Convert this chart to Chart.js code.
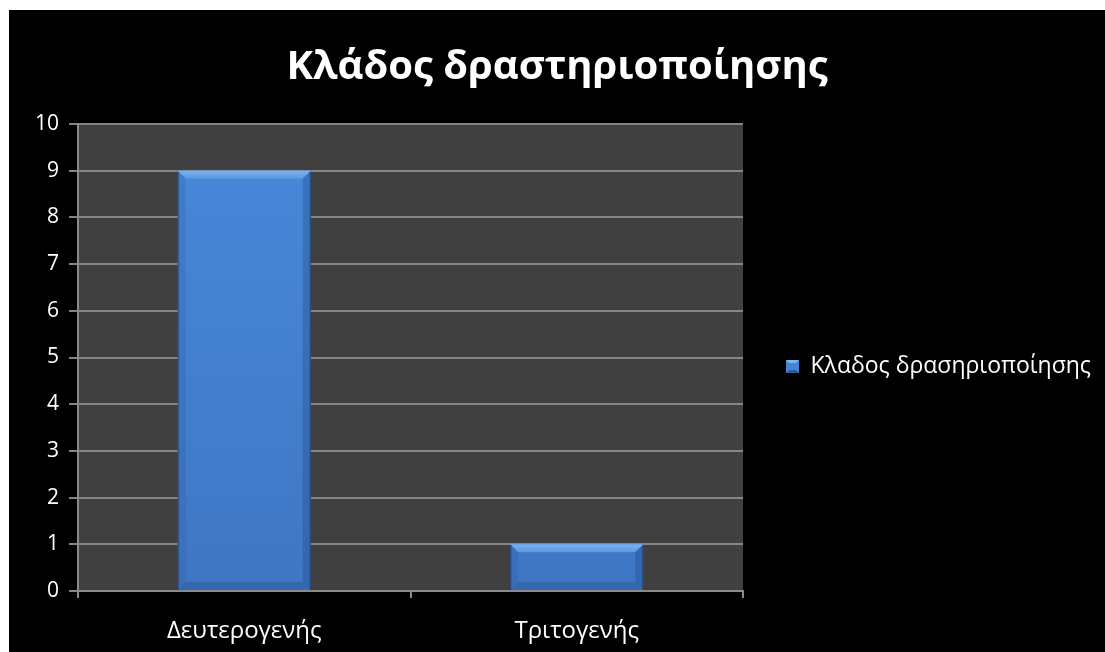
<!DOCTYPE html>
<html>
<head>
<meta charset="utf-8">
<script src="https://cdn.jsdelivr.net/npm/chart.js@4"></script>
<style>
  html, body { margin: 0; padding: 0; background: #fff; overflow: hidden; }
  #frame { position: fixed; left: 9px; top: 10px; right: 0; bottom: 0; background: #000; }
  canvas { display: block; }
</style>
</head>
<body>
<div id="frame"><canvas id="chart" width="1096" height="642"></canvas></div>
<script>
// Chart content
const chartTitle = 'Κλάδος δραστηριοποίησης';
const seriesName = 'Κλαδος δρασηριοποίησης';
const categories = ['Δευτερογενής', 'Τριτογενής'];
const seriesValues = [9, 1];
const yTickValues = [0, 1, 2, 3, 4, 5, 6, 7, 8, 9, 10];

const FONT = "'Open Sans', 'Noto Sans', sans-serif";
const BAR_TOP = '#4889da';
const BAR_BOTTOM = '#3f76c4';

// Small bevelled square used as the legend marker
function makeLegendMarker() {
  const s = 13;
  const c = document.createElement('canvas');
  c.width = s; c.height = s;
  const g = c.getContext('2d');
  g.fillStyle = '#4683d4';
  g.fillRect(0, 0, s, s);
  g.fillStyle = '#7fb3f0';
  g.beginPath(); g.moveTo(0, 0); g.lineTo(s, 0); g.lineTo(s - 3, 3); g.lineTo(3, 3); g.closePath(); g.fill();
  g.fillStyle = '#2f5c9c';
  g.beginPath(); g.moveTo(0, s); g.lineTo(s, s); g.lineTo(s - 3, s - 3); g.lineTo(3, s - 3); g.closePath(); g.fill();
  return c;
}
const legendMarker = makeLegendMarker();

// Dark fill behind the plotting area
const plotBackground = {
  id: 'plotBackground',
  beforeDraw(chart) {
    const { ctx, chartArea: a } = chart;
    ctx.save();
    ctx.fillStyle = '#404040';
    ctx.fillRect(a.left, a.top, a.right - a.left, a.bottom - a.top);
    ctx.restore();
  }
};

// Fixed-width legend column on the right
const legendWidth = {
  id: 'legendWidth',
  beforeLayout(chart) {
    const lg = chart.legend;
    if (lg && !lg._fixedFit) {
      const fit = lg.fit.bind(lg);
      lg.fit = function () { fit(); this.width = 362; };
      lg._fixedFit = true;
    }
  }
};

// Bevelled edges on each bar
const barBevel = {
  id: 'barBevel',
  afterDatasetsDraw(chart) {
    const { ctx } = chart;
    chart.getDatasetMeta(0).data.forEach(bar => {
      const { x, y, base, width } = bar.getProps(['x', 'y', 'base', 'width'], true);
      const l = x - width / 2, r = x + width / 2, t = y, b = base;
      const e = Math.min(8, (b - t) / 2.5);
      ctx.save();
      // top facet
      const gt = ctx.createLinearGradient(0, t, 0, t + e);
      gt.addColorStop(0, '#78b2f0');
      gt.addColorStop(1, '#5a98e2');
      ctx.fillStyle = gt;
      ctx.beginPath(); ctx.moveTo(l, t); ctx.lineTo(r, t); ctx.lineTo(r - e, t + e); ctx.lineTo(l + e, t + e); ctx.closePath(); ctx.fill();
      // left facet
      ctx.fillStyle = 'rgba(40,80,140,0.2)';
      ctx.beginPath(); ctx.moveTo(l, t); ctx.lineTo(l + e, t + e); ctx.lineTo(l + e, b - e); ctx.lineTo(l, b); ctx.closePath(); ctx.fill();
      // right facet
      ctx.fillStyle = 'rgba(30,60,110,0.28)';
      ctx.beginPath(); ctx.moveTo(r, t); ctx.lineTo(r - e, t + e); ctx.lineTo(r - e, b - e); ctx.lineTo(r, b); ctx.closePath(); ctx.fill();
      // bottom facet
      ctx.fillStyle = 'rgba(25,55,100,0.22)';
      ctx.beginPath(); ctx.moveTo(l, b); ctx.lineTo(r, b); ctx.lineTo(r - e, b - e); ctx.lineTo(l + e, b - e); ctx.closePath(); ctx.fill();
      // thin dark outline on the sides
      ctx.strokeStyle = 'rgba(20,40,80,0.55)';
      ctx.lineWidth = 1;
      ctx.beginPath(); ctx.moveTo(l + 0.5, t + 1); ctx.lineTo(l + 0.5, b); ctx.moveTo(r - 0.5, t + 1); ctx.lineTo(r - 0.5, b); ctx.stroke();
      ctx.restore();
    });
  }
};

new Chart(document.getElementById('chart'), {
  type: 'bar',
  data: {
    labels: categories,
    datasets: [{
      label: seriesName,
      data: seriesValues,
      backgroundColor(ctx) {
        const a = ctx.chart.chartArea;
        if (!a) return BAR_TOP;
        const g = ctx.chart.ctx.createLinearGradient(0, a.top, 0, a.bottom);
        g.addColorStop(0, BAR_TOP);
        g.addColorStop(1, BAR_BOTTOM);
        return g;
      },
      borderWidth: 0,
      barPercentage: 0.4,
      categoryPercentage: 1.0
    }]
  },
  options: {
    responsive: false,
    animation: false,
    layout: { padding: { top: 0, left: 0, right: 0, bottom: 0 } },
    plugins: {
      title: {
        display: true,
        text: chartTitle,
        color: '#fff',
        font: { family: FONT, size: 40, weight: 'bold', lineHeight: 1.2 },
        padding: { top: 34, bottom: 32 }
      },
      legend: {
        position: 'right',
        title: { display: true, text: '', padding: { top: 70, bottom: 0 }, font: { size: 1, lineHeight: 1 } },
        labels: {
          color: '#fff',
          font: { family: FONT, size: 23 },
          usePointStyle: true,
          boxWidth: 13,
          boxHeight: 13,
          padding: 43,
          generateLabels(chart) {
            return chart.data.datasets.map((ds, i) => ({
              text: ds.label,
              fillStyle: '#4683d4',
              strokeStyle: '#4683d4',
              lineWidth: 0,
              pointStyle: legendMarker,
              fontColor: '#fff',
              hidden: false,
              datasetIndex: i
            }));
          }
        }
      },
      tooltip: { enabled: false }
    },
    scales: {
      x: {
        afterFit(s) { s.height = 61; },
        grid: { display: true, drawOnChartArea: false, drawTicks: true, tickLength: 7, color: '#8a8a8a', lineWidth: 2, offset: true },
        border: { display: true, color: '#8a8a8a', width: 2 },
        ticks: { color: '#fff', font: { family: FONT, size: 24 }, padding: 19 }
      },
      y: {
        min: 0,
        max: 10,
        afterFit(s) { s.width = 69; },
        afterBuildTicks(s) { s.ticks = yTickValues.map(v => ({ value: v })); },
        grid: { color: '#858585', lineWidth: 2, tickLength: 9 },
        border: { display: true, color: '#8a8a8a', width: 2 },
        ticks: { color: '#fff', font: { family: FONT, size: 21 }, padding: 10 }
      }
    }
  },
  plugins: [plotBackground, legendWidth, barBevel]
});
</script>
</body>
</html>
